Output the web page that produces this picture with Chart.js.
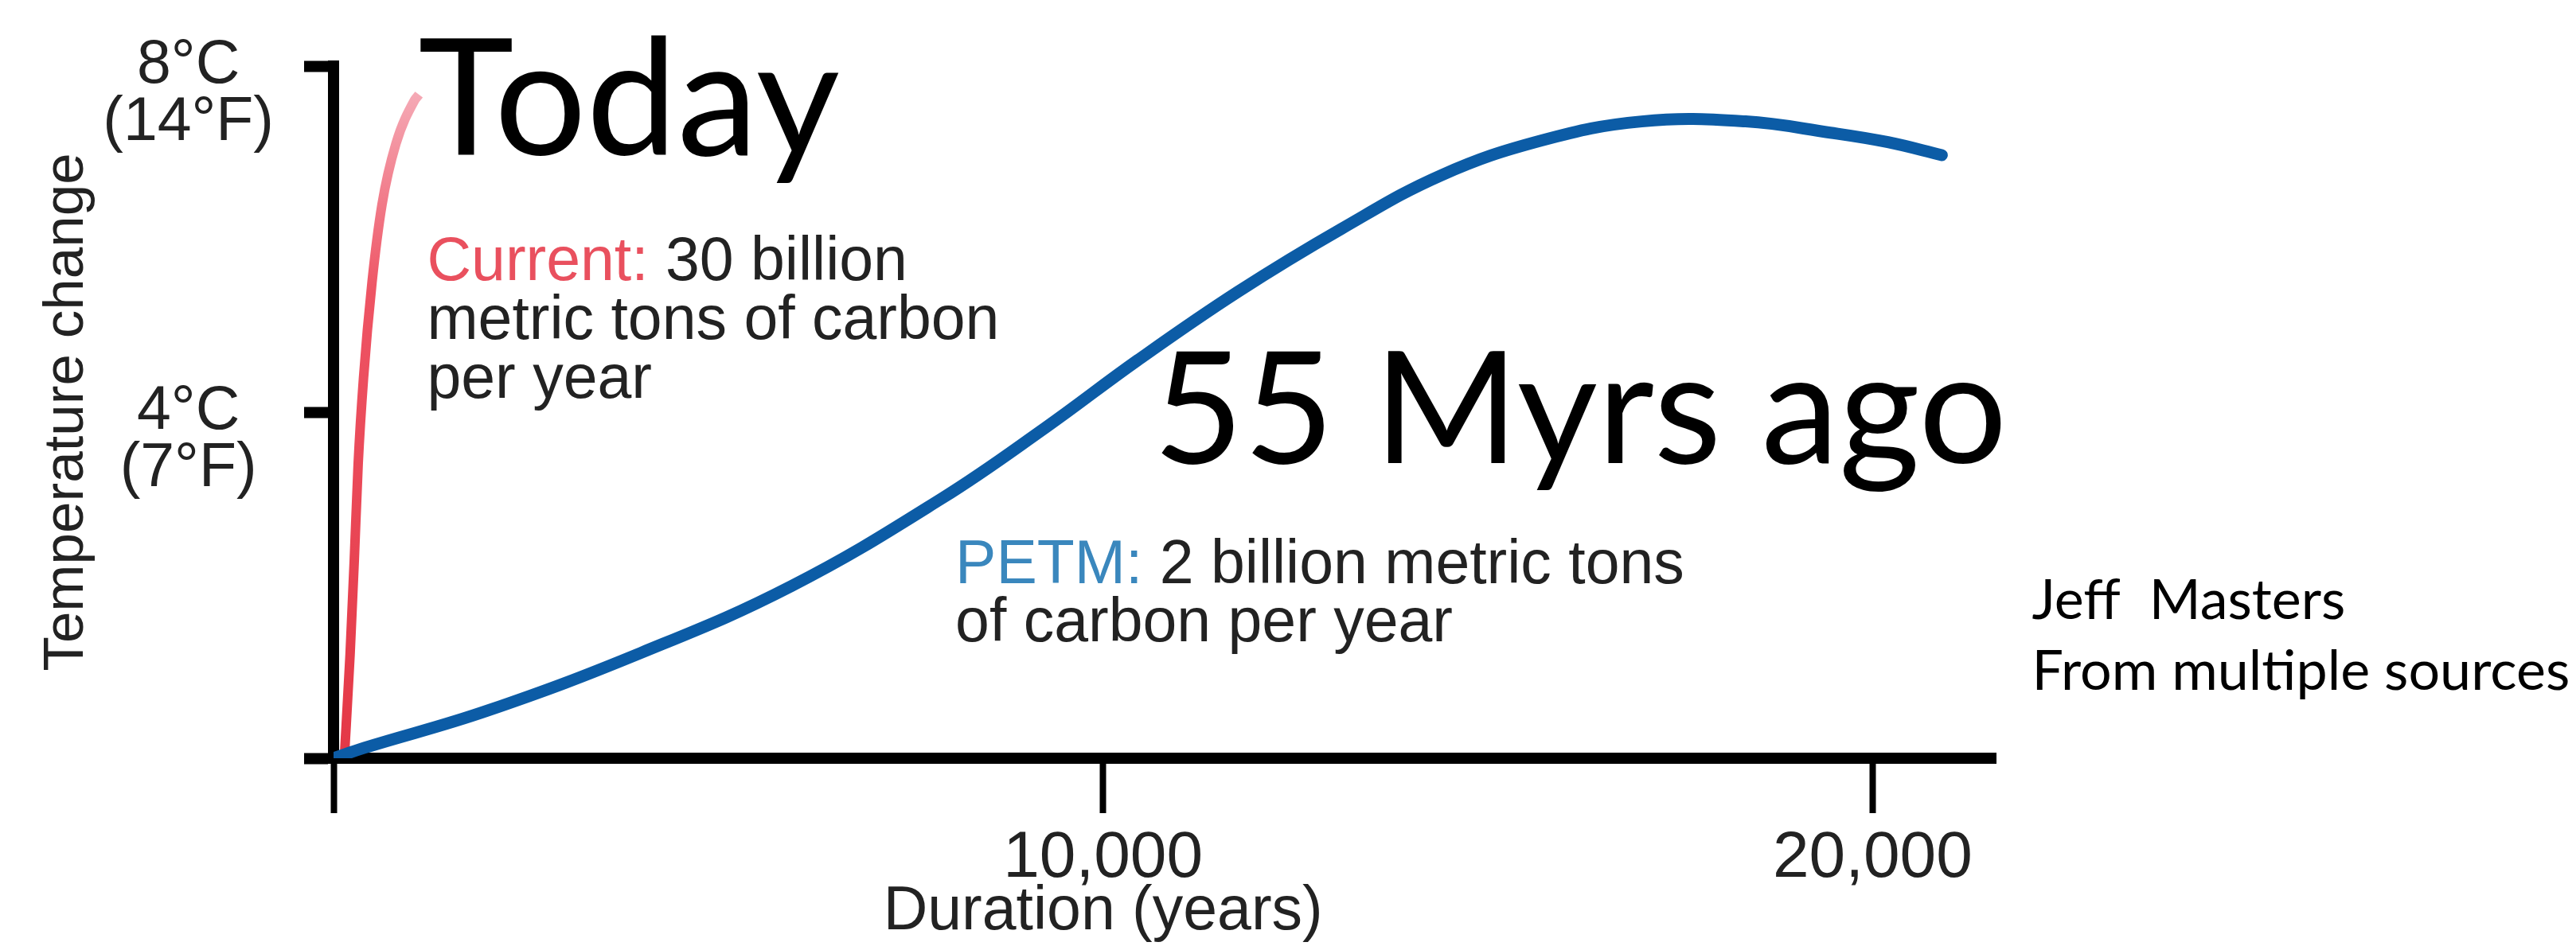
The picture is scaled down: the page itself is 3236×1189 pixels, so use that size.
<!DOCTYPE html>
<html>
<head>
<meta charset="utf-8">
<script src="https://cdn.jsdelivr.net/npm/chart.js@4.4.1/dist/chart.umd.min.js"></script>
<style>
  html, body { margin: 0; padding: 0; background: #fff; }
</style>
</head>
<body>
<canvas id="chart" width="3236" height="1189"></canvas>
<script>
// temperature change (°C) against years since the carbon release began
const redYears  = [140, 215, 270, 320, 390, 500, 630, 810, 1050, 1110];
const redTemps  = [0, 1.2, 2.3, 3.4, 4.4, 5.5, 6.4, 7.1, 7.6, 7.67];
const blueYears = [0, 400, 2000, 4000, 5950, 7900, 9250, 10450, 11750, 13100, 14400, 15700, 17000, 18350, 19450, 20200, 20900];
const blueTemps = [0, 0.12, 0.55, 1.22, 1.99, 3.0, 3.82, 4.60, 5.39, 6.12, 6.74, 7.14, 7.36, 7.36, 7.23, 7.12, 6.97];

const xTicks = [0, 10000, 20000];
const xTickLabels = ['', '10,000', '20,000'];
const yTicks = [0, 4, 8];
const yTickLabels = [[''], ['4°C', '(7°F)'], ['8°C', '(14°F)']];

const sans = "'Liberation Sans', Arial, sans-serif";
const slide = "Lato, 'Open Sans', sans-serif";

const toPoints = (xs, ys) => xs.map((x, i) => ({ x: x, y: ys[i] }));

// writes a line made of coloured pieces, starting at px
function drawRuns(ctx, runs, px, py) {
    let cx = px;
    runs.forEach(([text, color]) => {
        ctx.fillStyle = color;
        ctx.fillText(text, cx, py);
        cx += ctx.measureText(text).width;
    });
}

const notes = {
    id: 'notes',
    afterDraw(chart) {
        const { ctx, scales: { x, y } } = chart;
        ctx.save();
        ctx.textAlign = 'left';

        // big slide captions
        ctx.fillStyle = '#000';
        ctx.textBaseline = 'alphabetic';
        ctx.font = `204px ${slide}`;
        ctx.fillText('Today', x.getPixelForValue(1100), y.getPixelForValue(6.97));
        ctx.font = `196px ${slide}`;
        ctx.fillText('55 Myrs ago', x.getPixelForValue(10650), y.getPixelForValue(3.41));

        // curve descriptions
        ctx.font = `77px ${sans}`;
        ctx.textBaseline = 'middle';
        const dark = '#222';
        const cx = x.getPixelForValue(1215);
        drawRuns(ctx, [['Current:', '#e9505e'], [' 30 billion', dark]], cx, y.getPixelForValue(5.72));
        drawRuns(ctx, [['metric tons of carbon', dark]], cx, y.getPixelForValue(5.04));
        drawRuns(ctx, [['per year', dark]], cx, y.getPixelForValue(4.36));
        const px = x.getPixelForValue(8080);
        drawRuns(ctx, [['PETM:', '#3a87bd'], [' 2 billion metric tons', dark]], px, y.getPixelForValue(2.22));
        drawRuns(ctx, [['of carbon per year', dark]], px, y.getPixelForValue(1.55));

        // x axis title, centred under the 10,000 tick
        ctx.textAlign = 'center';
        ctx.fillStyle = dark;
        ctx.fillText('Duration (years)', x.getPixelForValue(10000), x.top + 194);

        // credit
        ctx.textAlign = 'left';
        ctx.font = `70px ${slide}`;
        ctx.fillStyle = '#000';
        const jx = x.getPixelForValue(22070);
        ctx.fillText('Jeff  Masters', jx, y.getPixelForValue(1.82));
        ctx.fillText('From multiple sources', jx, y.getPixelForValue(1.0));
        ctx.restore();
    }
};

const ctx = document.getElementById('chart').getContext('2d');
const chart = new Chart(ctx, {
    type: 'line',
    data: {
        datasets: [{
            label: 'PETM',
            data: toPoints(blueYears, blueTemps),
            borderColor: '#0c5ca6',
            borderWidth: 15,
            borderCapStyle: 'round',
            pointRadius: 0,
            tension: 0.4
        }, {
            label: 'Current',
            data: toPoints(redYears, redTemps),
            borderColor: (c) => {
                const { ctx, chartArea, scales } = c.chart;
                if (!chartArea) return '#e63a48';
                const g = ctx.createLinearGradient(0, scales.y.getPixelForValue(0), 0, scales.y.getPixelForValue(7.7));
                g.addColorStop(0, '#e43846');
                g.addColorStop(0.7, '#ee5464');
                g.addColorStop(1, '#f5aab6');
                return g;
            },
            borderWidth: 12,
            pointRadius: 0,
            cubicInterpolationMode: 'monotone'
        }]
    },
    options: {
        responsive: false,
        animation: false,
        layout: { padding: { left: 20, right: 729, top: 83, bottom: 0 } },
        plugins: {
            legend: { display: false },
            tooltip: { enabled: false }
        },
        scales: {
            x: {
                type: 'linear',
                min: 0,
                max: 21600,
                z: 1,
                afterBuildTicks: s => { s.ticks = xTicks.map(v => ({ value: v })); },
                afterFit: s => { s.height = 236; s.paddingLeft = 0; s.paddingRight = 0; },
                grid: { drawOnChartArea: false, tickLength: 69, tickWidth: 8, tickColor: '#000' },
                border: { display: true, color: '#000', width: 14 },
                ticks: {
                    autoSkip: false,
                    maxRotation: 0,
                    padding: 16,
                    color: '#222',
                    font: { family: sans, size: 82, lineHeight: 1.0 },
                    callback: v => xTickLabels[xTicks.indexOf(v)]
                }
            },
            y: {
                min: 0,
                max: 8,
                z: 1,
                afterBuildTicks: s => { s.ticks = yTicks.map(v => ({ value: v })); },
                afterFit: s => { s.width = 399; s.paddingTop = 0; s.paddingBottom = 0; },
                grid: { drawOnChartArea: false, tickLength: 37, tickWidth: 14, tickColor: '#000' },
                border: { display: true, color: '#000', width: 14 },
                ticks: {
                    autoSkip: false,
                    crossAlign: 'center',
                    labelOffset: 36,
                    padding: 38,
                    color: '#222',
                    font: { family: sans, size: 77, lineHeight: 0.94 },
                    callback: v => yTickLabels[yTicks.indexOf(v)]
                },
                title: {
                    display: true,
                    text: 'Temperature change',
                    color: '#222',
                    font: { family: sans, size: 71 },
                    padding: { top: 22, bottom: 0 }
                }
            }
        }
    },
    plugins: [notes]
});
</script>
</body>
</html>
